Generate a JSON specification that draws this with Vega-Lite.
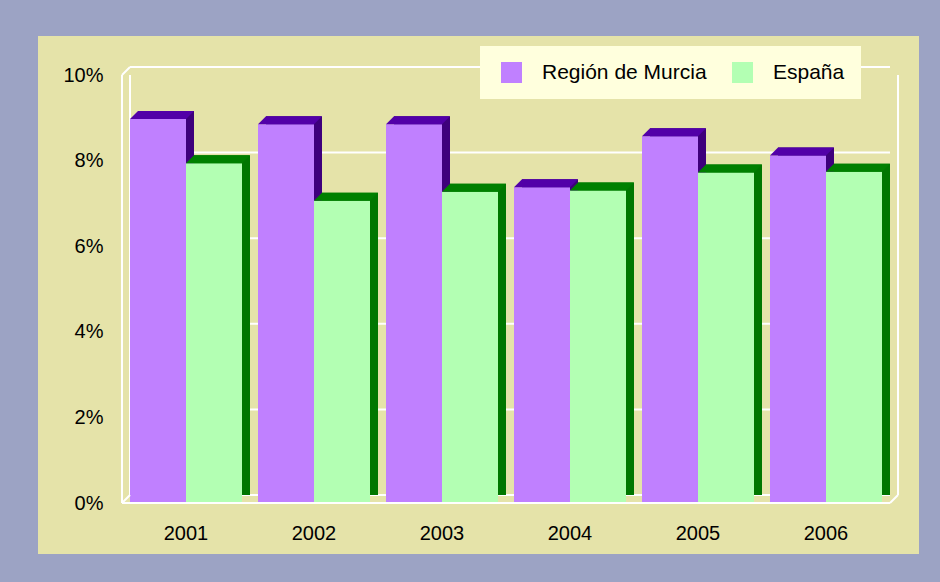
{
  "$schema": "https://vega.github.io/schema/vega-lite/v6.json",
  "width": 881,
  "height": 518,
  "autosize": "none",
  "padding": {"left": 38, "top": 36, "right": 21, "bottom": 28},
  "background": "#9CA3C4",
  "config": {
    "view": {"fill": "#E5E3A9", "stroke": null},
    "font": "Liberation Sans",
    "axis": {"labelFont": "Liberation Sans", "labelColor": "#000000"}
  },
  "resolve": {"scale": {"x": "independent"}},
  "layer": [
    {
      "data": {"values": [{"v": 0}, {"v": 2}, {"v": 4}, {"v": 6}, {"v": 8}, {"v": 10}]},
      "mark": {"type": "rule", "color": "#FFFFFF", "strokeWidth": 2, "xOffset": 8, "yOffset": -8},
      "encoding": {
        "x": {"datum": 0, "type": "quantitative", "scale": {"domain": [0, 1], "range": [84, 852]}, "axis": null},
        "x2": {"datum": 1},
        "y": {"field": "v", "type": "quantitative", "scale": {"domain": [0, 10], "range": [467, 39]},
          "axis": {"title": null, "domain": false, "ticks": false, "grid": false, "values": [0, 2, 4, 6, 8, 10], "labelExpr": "datum.value + '%'", "labelFontSize": 20, "labelPadding": 0, "offset": -65, "labelBaseline": "middle"}}
      }
    },
    {
      "data": {"values": [{"p": 0}, {"p": 1}]},
      "mark": {"type": "rule", "color": "#FFFFFF", "strokeWidth": 2, "xOffset": 8, "yOffset": -8},
      "encoding": {
        "x": {"field": "p", "type": "quantitative", "scale": {"domain": [0, 1], "range": [84, 852]}, "axis": null},
        "y": {"datum": 0, "type": "quantitative", "scale": {"domain": [0, 10], "range": [467, 39]},
          "axis": {"title": null, "domain": false, "ticks": false, "grid": false, "values": [0, 2, 4, 6, 8, 10], "labelExpr": "datum.value + '%'", "labelFontSize": 20, "labelPadding": 0, "offset": -65, "labelBaseline": "middle"}},
        "y2": {"datum": 10}
      }
    },
    {
      "data": {"values": [
        {"year": "2001", "region": "Región de Murcia", "value": 8.97},
        {"year": "2001", "region": "España", "value": 7.94},
        {"year": "2002", "region": "Región de Murcia", "value": 8.85},
        {"year": "2002", "region": "España", "value": 7.06},
        {"year": "2003", "region": "Región de Murcia", "value": 8.85},
        {"year": "2003", "region": "España", "value": 7.27},
        {"year": "2004", "region": "Región de Murcia", "value": 7.38},
        {"year": "2004", "region": "España", "value": 7.30},
        {"year": "2005", "region": "Región de Murcia", "value": 8.57},
        {"year": "2005", "region": "España", "value": 7.72},
        {"year": "2006", "region": "Región de Murcia", "value": 8.12},
        {"year": "2006", "region": "España", "value": 7.74}
      ]},
      "encoding": {
        "x": {
          "field": "year", "type": "nominal",
          "scale": {"range": [84, 852], "paddingInner": 0.125, "paddingOuter": 0.0625},
          "axis": {"title": null, "domain": false, "ticks": false, "labelAngle": 0, "labelFontSize": 20, "labelPadding": 0, "offset": -31, "labelBaseline": "top"}
        },
        "y": {
          "field": "value", "type": "quantitative",
          "scale": {"domain": [0, 10], "range": [467, 39]},
          "axis": {"title": null, "domain": false, "ticks": false, "grid": false, "values": [0, 2, 4, 6, 8, 10], "labelExpr": "datum.value + '%'", "labelFontSize": 20, "labelPadding": 0, "offset": -65, "labelBaseline": "middle"}
        }
      },
      "layer": [
        {
          "transform": [{"filter": "datum.region === 'Región de Murcia'"}],
          "mark": {"type": "bar", "width": 56, "xOffset": -20, "yOffset": -8, "color": "#3E007C"}
        },
        {
          "transform": [{"filter": "datum.region === 'España'"}],
          "mark": {"type": "bar", "width": 56, "xOffset": 36, "yOffset": -8, "color": "#007700"}
        },
        {
          "transform": [{"filter": "datum.region === 'Región de Murcia'"}],
          "mark": {"type": "bar", "width": 56, "xOffset": -28},
          "encoding": {
            "color": {
              "field": "region", "type": "nominal",
              "sort": ["Región de Murcia", "España"],
              "scale": {"domain": ["Región de Murcia", "España"], "range": ["#C080FF", "#B3FFB3"]},
              "legend": {
                "title": " ", "titleOrient": "left", "titlePadding": 5, "titleFontSize": 1,
                "orient": "none", "direction": "horizontal",
                "legendX": 442, "legendY": 10,
                "fillColor": "#FFFFDD", "padding": 16,
                "symbolType": "square", "symbolSize": 441, "symbolStrokeWidth": 0,
                "labelFont": "Liberation Sans", "labelFontSize": 21, "labelColor": "#000000",
                "labelOffset": 20, "columnPadding": 25, "labelLimit": 400
              }
            }
          }
        },
        {
          "transform": [{"filter": "datum.region === 'España'"}],
          "mark": {"type": "bar", "width": 56, "xOffset": 28},
          "encoding": {
            "color": {"field": "region", "type": "nominal", "sort": ["Región de Murcia", "España"]}
          }
        },
        {
          "transform": [{"filter": "datum.region === 'Región de Murcia'"}],
          "mark": {"type": "point", "xOffset": -28, "shape": "M-1,0L1,0L1.2857,-0.2857L-0.7143,-0.2857Z", "size": 3136, "filled": true, "opacity": 1, "strokeWidth": 0, "color": "#5200A8"}
        },
        {
          "transform": [{"filter": "datum.region === 'España'"}],
          "mark": {"type": "point", "xOffset": 28, "shape": "M-1,0L1,0L1.2857,-0.2857L-0.7143,-0.2857Z", "size": 3136, "filled": true, "opacity": 1, "strokeWidth": 0, "color": "#008000"}
        }
      ]
    },
    {
      "data": {"values": [{"p": 0}]},
      "mark": {"type": "rule", "color": "#FFFFFF", "strokeWidth": 2},
      "encoding": {
        "x": {"field": "p", "type": "quantitative", "scale": {"domain": [0, 1], "range": [84, 852]}, "axis": null},
        "y": {"datum": 0, "type": "quantitative", "scale": {"domain": [0, 10], "range": [467, 39]},
          "axis": {"title": null, "domain": false, "ticks": false, "grid": false, "values": [0, 2, 4, 6, 8, 10], "labelExpr": "datum.value + '%'", "labelFontSize": 20, "labelPadding": 0, "offset": -65, "labelBaseline": "middle"}},
        "y2": {"datum": 10}
      }
    },
    {
      "data": {"values": [{"p": 0}]},
      "mark": {"type": "rule", "color": "#FFFFFF", "strokeWidth": 2},
      "encoding": {
        "x": {"datum": 0, "type": "quantitative", "scale": {"domain": [0, 1], "range": [84, 852]}, "axis": null},
        "x2": {"datum": 1},
        "y": {"datum": 0, "type": "quantitative", "scale": {"domain": [0, 10], "range": [467, 39]},
          "axis": {"title": null, "domain": false, "ticks": false, "grid": false, "values": [0, 2, 4, 6, 8, 10], "labelExpr": "datum.value + '%'", "labelFontSize": 20, "labelPadding": 0, "offset": -65, "labelBaseline": "middle"}}
      }
    },
    {
      "data": {"values": [{"p": 0, "v": 0}, {"p": 0, "v": 10}, {"p": 1, "v": 0}]},
      "mark": {"type": "point", "shape": "M0,0L1,-1", "size": 256, "filled": false, "stroke": "#FFFFFF", "strokeWidth": 2, "opacity": 1},
      "encoding": {
        "x": {"field": "p", "type": "quantitative", "scale": {"domain": [0, 1], "range": [84, 852]}, "axis": null},
        "y": {"field": "v", "type": "quantitative", "scale": {"domain": [0, 10], "range": [467, 39]},
          "axis": {"title": null, "domain": false, "ticks": false, "grid": false, "values": [0, 2, 4, 6, 8, 10], "labelExpr": "datum.value + '%'", "labelFontSize": 20, "labelPadding": 0, "offset": -65, "labelBaseline": "middle"}}
      }
    }
  ]
}
